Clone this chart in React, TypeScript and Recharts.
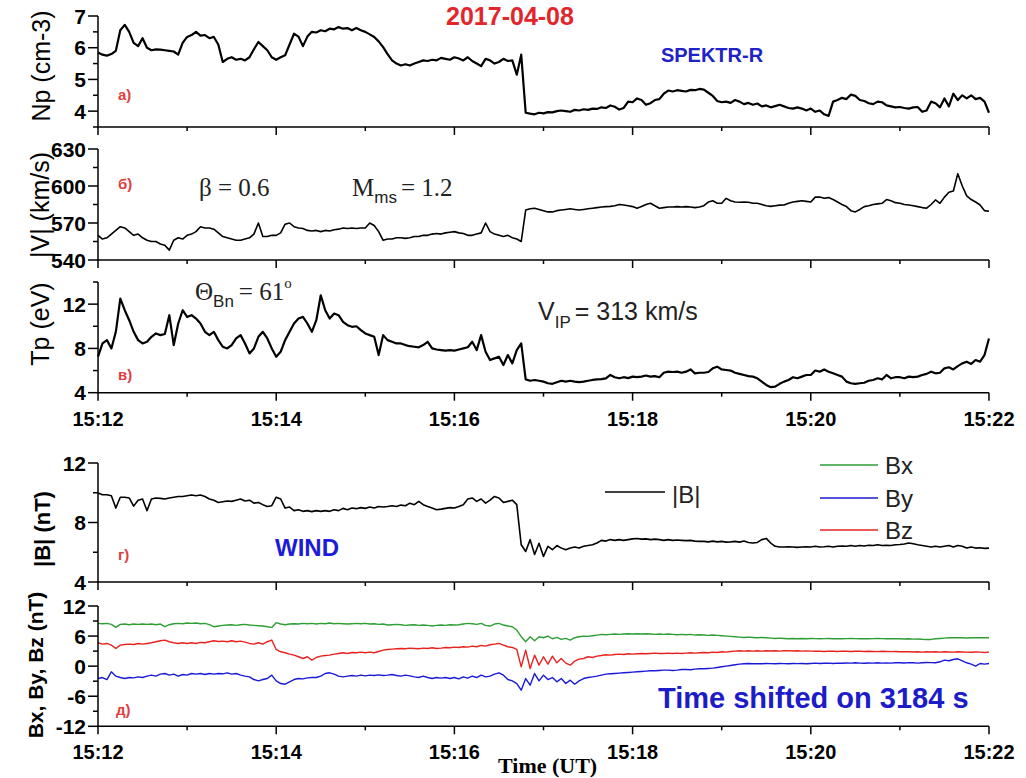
import { LineChart, Line, XAxis, YAxis } from 'recharts';

// time grid: minutes after 15:12, 3 s step
const TIME = Array.from({ length: 201 }, (_, i) => Math.round(i * 5) / 100);
const TIME_TICKS = [0, 1, 2, 3, 4, 5, 6, 7, 8, 9, 10];
const TIME_LABELS = ['15:12', '15:13', '15:14', '15:15', '15:16', '15:17', '15:18', '15:19', '15:20', '15:21', '15:22'];

// SPEKTR-R proton density, cm-3
const NP = [
  5.85, 5.78, 5.75, 5.8, 5.9, 6.55, 6.72, 6.5, 6.15, 6.05,
  6.3, 6.0, 5.92, 5.95, 5.94, 5.92, 5.9, 5.88, 5.78, 6.15,
  6.34, 6.4, 6.5, 6.38, 6.4, 6.3, 6.34, 6.1, 5.55, 5.65,
  5.7, 5.62, 5.65, 5.6, 5.7, 5.95, 6.18, 6.05, 5.92, 5.7,
  5.62, 5.7, 5.76, 6.1, 6.44, 6.35, 6.05, 6.35, 6.5, 6.48,
  6.55, 6.52, 6.6, 6.58, 6.65, 6.6, 6.62, 6.55, 6.62, 6.55,
  6.5, 6.42, 6.34, 6.2, 6.02, 5.8, 5.6, 5.5, 5.44, 5.48,
  5.44, 5.5, 5.55, 5.6, 5.58, 5.62, 5.6, 5.68, 5.65, 5.62,
  5.7, 5.66, 5.6, 5.7, 5.58, 5.5, 5.42, 5.65, 5.6, 5.5,
  5.55, 5.65, 5.58, 5.6, 5.15, 5.78, 3.95, 3.92, 3.9, 3.95,
  3.93, 3.97, 3.96, 4.0, 4.02, 4.0, 3.98, 4.04, 4.02, 4.06,
  4.04, 4.08, 4.07, 4.12, 4.1, 4.18, 4.14, 4.05, 4.1, 4.3,
  4.28, 4.4, 4.35, 4.2, 4.25, 4.35, 4.38, 4.55, 4.65, 4.62,
  4.66, 4.64, 4.62, 4.67, 4.66, 4.7, 4.68, 4.58, 4.48, 4.32,
  4.28, 4.3, 4.26, 4.35, 4.3, 4.22, 4.26, 4.2, 4.24, 4.15,
  4.18, 4.12, 4.16, 4.2, 4.15, 4.1, 4.08, 4.12, 4.08, 4.02,
  4.08, 3.98, 4.02, 3.9, 3.85, 4.3, 4.35, 4.42, 4.38, 4.52,
  4.48, 4.35, 4.32, 4.25, 4.22, 4.3, 4.28, 4.18, 4.15, 4.12,
  4.13, 4.1, 4.08, 4.12, 4.13, 3.98, 4.02, 4.3, 4.25, 4.12,
  4.4, 4.15, 4.55, 4.35, 4.5, 4.4, 4.5, 4.38, 4.42, 4.3,
  3.95,
];

// bulk speed |V|, km/s
const VEL = [
  560, 557, 558, 561, 564, 567, 566, 563, 560, 561,
  558, 556, 555, 555, 553, 552, 548, 556, 558, 557,
  560, 561, 563, 567, 566, 566, 565, 562, 559, 558,
  557, 556, 556, 557, 558, 561, 570, 559, 559, 560,
  560, 562, 569, 570, 567, 566, 565.5, 564, 563.5, 564,
  563, 564, 563.5, 564.5, 565, 566, 565.5, 566, 565.5, 566,
  566, 570, 568, 563, 556, 557, 557, 558, 558, 557.5,
  558, 559, 559, 560, 560, 561, 561.5, 561, 562, 562.5,
  563, 562, 561.5, 560, 560, 561, 562, 570, 563, 561,
  560, 559, 560, 558, 557, 555, 580.5, 581.5, 582, 581,
  580, 579, 579, 580, 580.5, 581, 581.5, 581, 580.5, 581,
  581.5, 582, 582.5, 583, 583.3, 583.5, 584, 585, 584.6, 584,
  583.3, 582, 583.3, 585, 586, 584, 582, 582.5, 583, 583,
  583.3, 583, 583.3, 583, 582.5, 583, 584, 587, 588, 586,
  586, 590, 588, 587, 586.8, 587, 586.8, 586, 586, 585,
  584, 583.5, 584, 584.5, 584.6, 586, 587, 587.5, 588, 587.5,
  587, 591, 591, 590, 590.6, 589, 587, 585, 583.3, 580,
  579, 581, 583.3, 584, 585, 585.5, 586, 589, 588, 586.5,
  586, 585, 584.6, 584, 583.3, 582.5, 582, 585, 588.7, 586,
  591, 595, 596, 610, 600, 592, 589, 587, 584.6, 580,
  579.5,
];

// proton temperature, eV
const TP = [
  7.25, 8.45, 8.75, 8.0, 9.5, 12.5, 11.45, 10.55, 9.5, 8.75,
  8.45, 8.6, 9.05, 9.35, 9.2, 9.3, 11.0, 8.3, 10.25, 11.45,
  10.85, 11.0, 10.7, 10.25, 9.5, 9.2, 9.5, 8.75, 8.15, 8.0,
  8.3, 8.9, 9.2, 8.45, 7.55, 8.0, 9.05, 9.5, 8.9, 8.0,
  7.25, 7.7, 8.75, 9.5, 10.25, 10.7, 10.85, 10.25, 9.5, 10.55,
  12.8, 11.45, 10.7, 11.15, 11.0, 10.4, 10.1, 9.95, 10.0, 9.65,
  9.35, 9.2, 9.05, 7.4, 9.2, 8.75, 8.6, 8.45, 8.45, 8.3,
  8.2, 8.15, 8.1, 8.3, 8.6, 8.0, 7.9, 7.85, 7.8, 7.85,
  7.8, 7.9, 8.0, 8.1, 8.6, 7.85, 9.2, 7.7, 6.95, 7.1,
  7.25, 6.5, 7.4, 6.65, 7.85, 8.45, 5.2, 5.08, 5.15, 5.08,
  5.0, 4.85, 4.8, 4.95, 5.08, 5.0, 5.08, 5.0, 4.95, 5.0,
  5.08, 5.15, 5.2, 5.23, 5.3, 5.6, 5.4, 5.3, 5.4, 5.32,
  5.45, 5.4, 5.45, 5.55, 5.45, 5.5, 5.4, 5.8, 5.9, 5.87,
  5.9, 5.8, 5.9, 6.1, 5.75, 5.8, 5.8, 5.87, 6.2, 6.35,
  6.1, 6.05, 6.0, 5.8, 5.7, 5.6, 5.5, 5.45, 5.3, 5.0,
  4.7, 4.5, 4.55, 4.8, 5.0, 5.15, 5.4, 5.3, 5.45, 5.6,
  5.6, 6.0, 5.9, 6.1, 5.9, 5.75, 5.6, 5.45, 5.0, 4.85,
  4.8, 4.85, 4.9, 5.08, 5.15, 5.3, 5.2, 5.6, 5.3, 5.4,
  5.4, 5.3, 5.45, 5.4, 5.45, 5.6, 5.7, 5.9, 5.75, 5.8,
  6.2, 6.3, 6.1, 6.4, 6.65, 6.8, 6.6, 6.95, 6.8, 7.4,
  8.9,
];

// WIND |B|, nT
const BMAG = [
  9.98, 9.87, 9.87, 9.8, 8.97, 9.7, 9.7, 9.65, 9.1, 9.5,
  9.58, 8.8, 9.58, 9.65, 9.62, 9.58, 9.65, 9.7, 9.75, 9.75,
  9.8, 9.85, 9.8, 9.85, 9.75, 9.58, 9.5, 9.35, 9.4, 9.45,
  9.42, 9.5, 9.58, 9.45, 9.5, 9.3, 9.35, 9.2, 9.08, 9.13,
  9.7, 9.58, 8.97, 9.04, 8.8, 8.86, 8.75, 8.8, 8.73, 8.8,
  8.75, 8.8, 8.75, 8.86, 8.8, 8.95, 8.86, 8.97, 8.93, 9.0,
  8.95, 9.04, 8.97, 9.08, 9.04, 9.08, 9.13, 9.08, 9.17, 9.13,
  9.3, 9.2, 9.42, 9.2, 9.08, 8.97, 8.86, 8.9, 8.95, 9.0,
  8.97, 9.08, 9.2, 9.58, 9.65, 9.42, 9.58, 9.3, 9.5, 9.75,
  9.65, 9.35, 9.42, 9.5, 9.2, 6.5, 6.05, 6.85, 5.85, 6.6,
  5.72, 6.4, 6.17, 6.45, 6.28, 6.17, 6.28, 6.35, 6.28, 6.4,
  6.45, 6.5, 6.62, 6.8, 6.75, 6.85, 6.8, 6.85, 6.8, 6.85,
  6.9, 6.92, 6.88, 6.9, 6.85, 6.88, 6.85, 6.8, 6.85, 6.8,
  6.82, 6.8, 6.78, 6.8, 6.75, 6.73, 6.73, 6.7, 6.75, 6.7,
  6.73, 6.68, 6.7, 6.73, 6.68, 6.75, 6.66, 6.62, 6.66, 6.85,
  6.93, 6.62, 6.4, 6.35, 6.35, 6.37, 6.35, 6.33, 6.35, 6.37,
  6.35, 6.4, 6.35, 6.37, 6.4, 6.35, 6.4, 6.42, 6.4, 6.45,
  6.4, 6.45, 6.42, 6.47, 6.45, 6.5, 6.45, 6.47, 6.45, 6.5,
  6.52, 6.55, 6.62, 6.57, 6.5, 6.45, 6.4, 6.35, 6.4, 6.35,
  6.4, 6.45, 6.35, 6.45, 6.4, 6.28, 6.35, 6.28, 6.3, 6.26,
  6.28,
];

// WIND field components, nT
const BX = [
  8.53, 8.47, 8.53, 8.33, 7.73, 8.33, 8.4, 8.27, 8.4, 8.33,
  8.4, 8.33, 8.4, 8.27, 8.4, 7.87, 8.27, 8.47, 8.53, 8.47,
  8.6, 8.53, 8.6, 8.47, 8.53, 8.27, 7.87, 8.0, 8.13, 8.2,
  8.27, 8.13, 8.27, 8.33, 8.2, 8.13, 8.07, 8.0, 7.87, 7.73,
  8.67, 8.4, 8.27, 8.4, 8.47, 8.4, 8.53, 8.47, 8.53, 8.4,
  8.53, 8.47, 8.6, 8.47, 8.53, 8.47, 8.4, 8.47, 8.53, 8.47,
  8.53, 8.4, 8.47, 8.33, 8.4, 8.2, 8.27, 8.33, 8.27, 8.13,
  8.2, 8.27, 8.13, 8.2, 8.13, 8.0, 8.13, 8.2, 8.13, 8.27,
  8.2, 8.27, 8.4, 8.53, 8.47, 8.33, 8.53, 8.13, 8.0, 8.4,
  8.53, 8.2, 8.0, 7.87, 7.2, 5.87, 4.87, 5.87, 5.07, 5.87,
  5.67, 6.0, 5.47, 5.73, 5.33, 5.53, 5.2, 5.67, 5.87, 6.0,
  5.93, 6.07, 6.2, 6.33, 6.27, 6.33, 6.4, 6.33, 6.4, 6.47,
  6.4, 6.47, 6.4, 6.47, 6.4, 6.33, 6.4, 6.33, 6.4, 6.33,
  6.27, 6.33, 6.27, 6.33, 6.2, 6.27, 6.2, 6.13, 6.2, 6.13,
  6.07, 6.0, 5.93, 5.87, 5.8, 5.73, 5.8, 5.73, 5.67, 5.73,
  5.67, 5.6, 5.53, 5.6, 5.53, 5.47, 5.53, 5.47, 5.53, 5.47,
  5.53, 5.5, 5.47, 5.5, 5.53, 5.47, 5.5, 5.47, 5.5, 5.53,
  5.5, 5.47, 5.5, 5.47, 5.5, 5.53, 5.5, 5.47, 5.5, 5.47,
  5.47, 5.43, 5.47, 5.4, 5.43, 5.37, 5.33, 5.33, 5.47, 5.53,
  5.6, 5.67, 5.67, 5.7, 5.67, 5.63, 5.67, 5.7, 5.67, 5.7,
  5.67,
];

const BY = [
  -2.47, -2.27, -2.67, -1.13, -2.0, -2.27, -2.47, -2.27, -2.33, -2.13,
  -2.27, -2.0, -1.8, -2.0, -1.6, -1.47, -1.8, -1.6, -2.0, -1.67,
  -1.8, -1.47, -1.6, -1.47, -1.67, -1.47, -1.6, -1.47, -1.53, -1.33,
  -1.6, -1.47, -1.8, -2.0, -2.13, -2.67, -2.93, -2.67, -2.47, -1.8,
  -2.93, -3.47, -3.6, -3.13, -2.67, -2.47, -2.53, -2.33, -2.27, -2.27,
  -2.0, -1.47, -1.33, -1.6, -2.0, -2.13, -2.0, -1.87, -2.0, -1.8,
  -1.93, -1.8, -1.87, -1.73, -1.87, -1.8, -1.67, -1.87, -2.0, -1.8,
  -1.93, -2.13, -2.27, -2.0, -2.27, -2.47, -2.27, -2.4, -2.27, -2.47,
  -2.27, -2.53, -2.13, -2.4, -2.0, -2.27, -1.8, -2.13, -2.0, -1.6,
  -1.33, -1.8, -2.67, -2.93, -3.47, -4.8, -2.47, -3.8, -1.47, -2.93,
  -1.8, -2.67, -2.27, -3.13, -2.47, -3.47, -2.8, -3.6, -2.93, -2.47,
  -2.27, -2.13, -2.0, -1.8, -1.6, -1.53, -1.47, -1.4, -1.33, -1.27,
  -1.2, -1.13, -1.07, -1.0, -0.93, -0.93, -0.87, -0.8, -0.8, -0.87,
  -0.8, -0.67, -0.67, -0.73, -0.6, -0.53, -0.53, -0.47, -0.4, -0.27,
  -0.13, 0.0, 0.13, 0.27, 0.4, 0.47, 0.53, 0.47, 0.5, 0.47,
  0.53, 0.5, 0.47, 0.53, 0.5, 0.47, 0.53, 0.5, 0.53, 0.47,
  0.53, 0.6, 0.53, 0.57, 0.6, 0.53, 0.6, 0.57, 0.63, 0.6,
  0.67, 0.6, 0.57, 0.63, 0.6, 0.67, 0.6, 0.63, 0.6, 0.67,
  0.67, 0.63, 0.7, 0.67, 0.6, 0.67, 0.73, 0.7, 0.67, 0.87,
  1.2, 1.07, 1.33, 1.47, 1.07, 0.67, 0.4, 0.0, 0.53, 0.4,
  0.53,
];

const BZ = [
  4.67, 4.4, 4.53, 4.2, 3.53, 4.2, 4.33, 4.4, 4.33, 4.53,
  4.4, 4.53, 4.67, 4.87, 5.07, 5.2, 4.87, 4.67, 4.53, 4.67,
  4.53, 4.67, 4.53, 4.73, 4.67, 4.87, 5.07, 4.93, 5.0, 4.87,
  5.07, 4.87, 5.0, 4.8, 4.53, 4.4, 4.67, 4.4, 4.87, 5.2,
  3.33, 2.87, 2.67, 2.4, 2.2, 1.87, 1.53, 1.87, 1.2, 1.73,
  2.0, 2.13, 2.2, 2.4, 2.53, 2.67, 2.53, 2.73, 2.67, 2.8,
  2.67, 2.8, 2.67, 2.93, 3.2, 3.33, 3.4, 3.47, 3.53, 3.47,
  3.6, 3.53, 3.47, 3.6, 3.53, 3.67, 3.53, 3.6, 3.73, 3.67,
  3.8, 3.73, 3.87, 3.8, 4.0, 3.87, 4.13, 4.0, 4.27, 4.4,
  4.53, 4.2, 3.87, 3.73, 3.33, -0.13, 3.2, -0.47, 2.2, 0.2,
  1.87, 0.4, 2.0, 0.67, 1.53, 0.6, 0.2, 1.0, 1.4, 1.53,
  1.87, 1.73, 2.0, 2.13, 2.27, 2.2, 2.33, 2.4, 2.33, 2.47,
  2.4, 2.47, 2.53, 2.47, 2.53, 2.6, 2.53, 2.53, 2.6, 2.53,
  2.6, 2.53, 2.6, 2.67, 2.6, 2.67, 2.73, 2.67, 2.8, 2.73,
  2.87, 2.8, 2.93, 3.0, 3.07, 3.0, 3.07, 3.0, 3.07, 3.0,
  3.07, 3.03, 3.07, 3.0, 3.07, 3.1, 3.03, 3.07, 3.0, 3.03,
  3.0, 2.97, 3.0, 2.93, 3.0, 2.97, 2.93, 3.0, 2.97, 2.93,
  2.97, 3.0, 2.93, 2.97, 2.93, 2.9, 2.97, 2.93, 2.9, 2.93,
  2.87, 2.9, 2.87, 2.83, 2.87, 2.8, 2.87, 2.83, 2.87, 2.8,
  2.87, 2.83, 2.8, 2.87, 2.83, 2.8, 2.77, 2.83, 2.8, 2.73,
  2.8,
];

const rows = TIME.map((t, i) => ({
  t,
  np: NP[i],
  v: VEL[i],
  tp: TP[i],
  b: BMAG[i],
  bx: BX[i],
  by: BY[i],
  bz: BZ[i],
}));

const SANS = '"Liberation Sans", Arial, Helvetica, sans-serif';
const SERIF = '"Liberation Serif", "Times New Roman", serif';
const RED = '#e3262c';
const LABEL_RED = '#de4040';
const BLUE = '#2121c8';

// eslint-disable-next-line @typescript-eslint/no-explicit-any
function TimeTick({ x, y, payload, showLabel }: any) {
  const major = payload.value % 2 === 0;
  return (
    <g>
      <line x1={x} x2={x} y1={y} y2={y + (major ? 8 : 4)} stroke="#000" strokeWidth={1.5} />
      {showLabel && major && (
        <text x={x} y={y + 33} textAnchor="middle" fontFamily={SANS} fontSize={20} fontWeight="bold" fill="#000">
          {TIME_LABELS[Math.round(payload.value)]}
        </text>
      )}
    </g>
  );
}

// eslint-disable-next-line @typescript-eslint/no-explicit-any
function ValueTick({ x, y, payload, labeled }: any) {
  const major = labeled.includes(payload.value);
  return (
    <g>
      <line x1={x - (major ? 10 : 5)} x2={x} y1={y} y2={y} stroke="#000" strokeWidth={1.5} />
      {major && (
        <text x={x - 12} y={y} dy="0.36em" textAnchor="end" fontFamily={SANS} fontSize={21} fontWeight="bold" fill="#000">
          {payload.value}
        </text>
      )}
    </g>
  );
}

interface Series {
  key: string;
  color: string;
  width: number;
}

interface PanelProps {
  top: number;
  bottom: number;
  domain: [number, number];
  ticks: number[];
  labeled: number[];
  series: Series[];
  timeLabels?: boolean;
}

function Panel({ top, bottom, domain, ticks, labeled, series, timeLabels = false }: PanelProps) {
  const pad = 10;
  const axisH = 45;
  return (
    <div style={{ position: 'absolute', left: 0, top: top - pad }}>
      <LineChart
        width={1026}
        height={bottom - top + pad + axisH}
        data={rows}
        margin={{ top: pad, right: 37, bottom: 0, left: 38 }}
      >
        <XAxis
          dataKey="t"
          type="number"
          domain={[0, 10]}
          ticks={TIME_TICKS}
          interval={0}
          height={axisH}
          tickSize={0}
          tickMargin={0}
          tickLine={false}
          axisLine={{ stroke: '#000', strokeWidth: 1.5 }}
          tick={<TimeTick showLabel={timeLabels} />}
        />
        <YAxis
          type="number"
          domain={domain}
          ticks={ticks}
          interval={0}
          width={60}
          tickSize={0}
          tickMargin={0}
          tickLine={false}
          allowDataOverflow
          axisLine={{ stroke: '#000', strokeWidth: 1.5 }}
          tick={<ValueTick labeled={labeled} />}
        />
        {series.map(s => (
          <Line
            key={s.key}
            dataKey={s.key}
            type="linear"
            stroke={s.color}
            strokeWidth={s.width}
            strokeLinejoin="round"
            dot={false}
            activeDot={false}
            isAnimationActive={false}
          />
        ))}
      </LineChart>
    </div>
  );
}

export default function App() {
  return (
    <div style={{ position: 'absolute', left: 0, top: 0, width: 1026, height: 778, background: '#fff', overflow: 'hidden' }}>
      <Panel top={15.7} bottom={126.7} domain={[3.5, 7]} ticks={[3.5, 4, 4.5, 5, 5.5, 6, 6.5, 7]} labeled={[4, 5, 6, 7]}
        series={[{ key: 'np', color: '#000', width: 2.2 }]} />
      <Panel top={149} bottom={260} domain={[540, 630]} ticks={[540, 555, 570, 585, 600, 615, 630]} labeled={[540, 570, 600, 630]}
        series={[{ key: 'v', color: '#000', width: 1.6 }]} />
      <Panel top={282} bottom={392.7} domain={[4, 14]} ticks={[4, 6, 8, 10, 12, 14]} labeled={[4, 8, 12]}
        series={[{ key: 'tp', color: '#000', width: 2.2 }]} timeLabels />
      <Panel top={463.3} bottom={582.3} domain={[4, 12]} ticks={[4, 6, 8, 10, 12]} labeled={[4, 8, 12]}
        series={[{ key: 'b', color: '#000', width: 1.6 }]} />
      <Panel top={605.7} bottom={726} domain={[-12, 12]} ticks={[-12, -9, -6, -3, 0, 3, 6, 9, 12]} labeled={[-12, -6, 0, 6, 12]}
        series={[
          { key: 'bx', color: '#2e9e35', width: 1.4 },
          { key: 'bz', color: '#e8231f', width: 1.4 },
          { key: 'by', color: '#1a1ad6', width: 1.4 },
        ]} timeLabels />

      <svg width={1026} height={778} style={{ position: 'absolute', left: 0, top: 0, pointerEvents: 'none' }}>
        <g fontFamily={SANS} fill="#000">
          <text transform="rotate(-90 41 66)" x={41} y={66} textAnchor="middle" dominantBaseline="central" fontSize={25}>Np (cm-3)</text>
          <text transform="rotate(-90 40 205)" x={40} y={205} textAnchor="middle" dominantBaseline="central" fontSize={25}>|V| (km/s)</text>
          <text transform="rotate(-90 40 324)" x={40} y={324} textAnchor="middle" dominantBaseline="central" fontSize={25}>Tp (eV)</text>
          <text transform="rotate(-90 42 529)" x={42} y={529} textAnchor="middle" dominantBaseline="central" fontSize={22} fontWeight="bold">|B| (nT)</text>
          <text transform="rotate(-90 35 665)" x={35} y={665} textAnchor="middle" dominantBaseline="central" fontSize={21} fontWeight="bold">Bx, By, Bz (nT)</text>
        </g>

        <text x={510} y={25} textAnchor="middle" fontFamily={SANS} fontSize={25} fontWeight="bold" fill={RED}>2017-04-08</text>
        <text x={712} y={62} textAnchor="middle" fontFamily={SANS} fontSize={20} fontWeight="bold" fill={BLUE}>SPEKTR-R</text>

        <g fontFamily={SANS} fontSize={15} fontWeight="bold" fill={LABEL_RED}>
          <text x={118} y={100}>а)</text>
          <text x={118} y={189}>б)</text>
          <text x={118} y={380}>в)</text>
          <text x={118} y={560}>г)</text>
          <text x={116} y={715}>д)</text>
        </g>

        <g fontFamily={SERIF} fontSize={25} fill="#222">
          <text x={199} y={196}>β = 0.6</text>
          <text x={352} y={196}>
            M<tspan fontFamily={SANS} fontSize={17} dy={7}>ms</tspan>
            <tspan dy={-7} dx={4}>= 1.2</tspan>
          </text>
          <text x={195} y={300}>
            Θ<tspan fontFamily={SANS} fontSize={17} dy={7}>Bn</tspan>
            <tspan dy={-7} dx={5}>= 61</tspan>
            <tspan fontSize={15} dy={-12}>o</tspan>
          </text>
        </g>
        <text x={538} y={320} fontFamily={SANS} fontSize={25} fill="#222">
          V<tspan fontSize={17} dy={8}>IP</tspan>
          <tspan dy={-8} dx={4}>= 313 km/s</tspan>
        </text>

        <g fontFamily={SANS} fontSize={24} fill="#222">
          <line x1={605} x2={665} y1={492} y2={492} stroke="#000" strokeWidth={1.5} />
          <text x={672} y={503}>|B|</text>
          <line x1={820} x2={878} y1={465} y2={465} stroke="#2e9e35" strokeWidth={1.5} />
          <text x={885} y={474}>Bx</text>
          <line x1={820} x2={878} y1={498} y2={498} stroke="#1a1ad6" strokeWidth={1.5} />
          <text x={885} y={507}>By</text>
          <line x1={820} x2={878} y1={530} y2={530} stroke="#e8231f" strokeWidth={1.5} />
          <text x={885} y={539}>Bz</text>
        </g>

        <text x={307} y={556} textAnchor="middle" fontFamily={SANS} fontSize={24} fontWeight="bold" fill="#1c1cd8">WIND</text>
        <text x={658} y={708} fontFamily={SANS} fontSize={29} fontWeight="bold" fill="#1c1cc8">Time shifted on 3184 s</text>
        <text x={498} y={773} fontFamily={SERIF} fontSize={22} fontWeight="bold" fill="#000">Time (UT)</text>
      </svg>
    </div>
  );
}
